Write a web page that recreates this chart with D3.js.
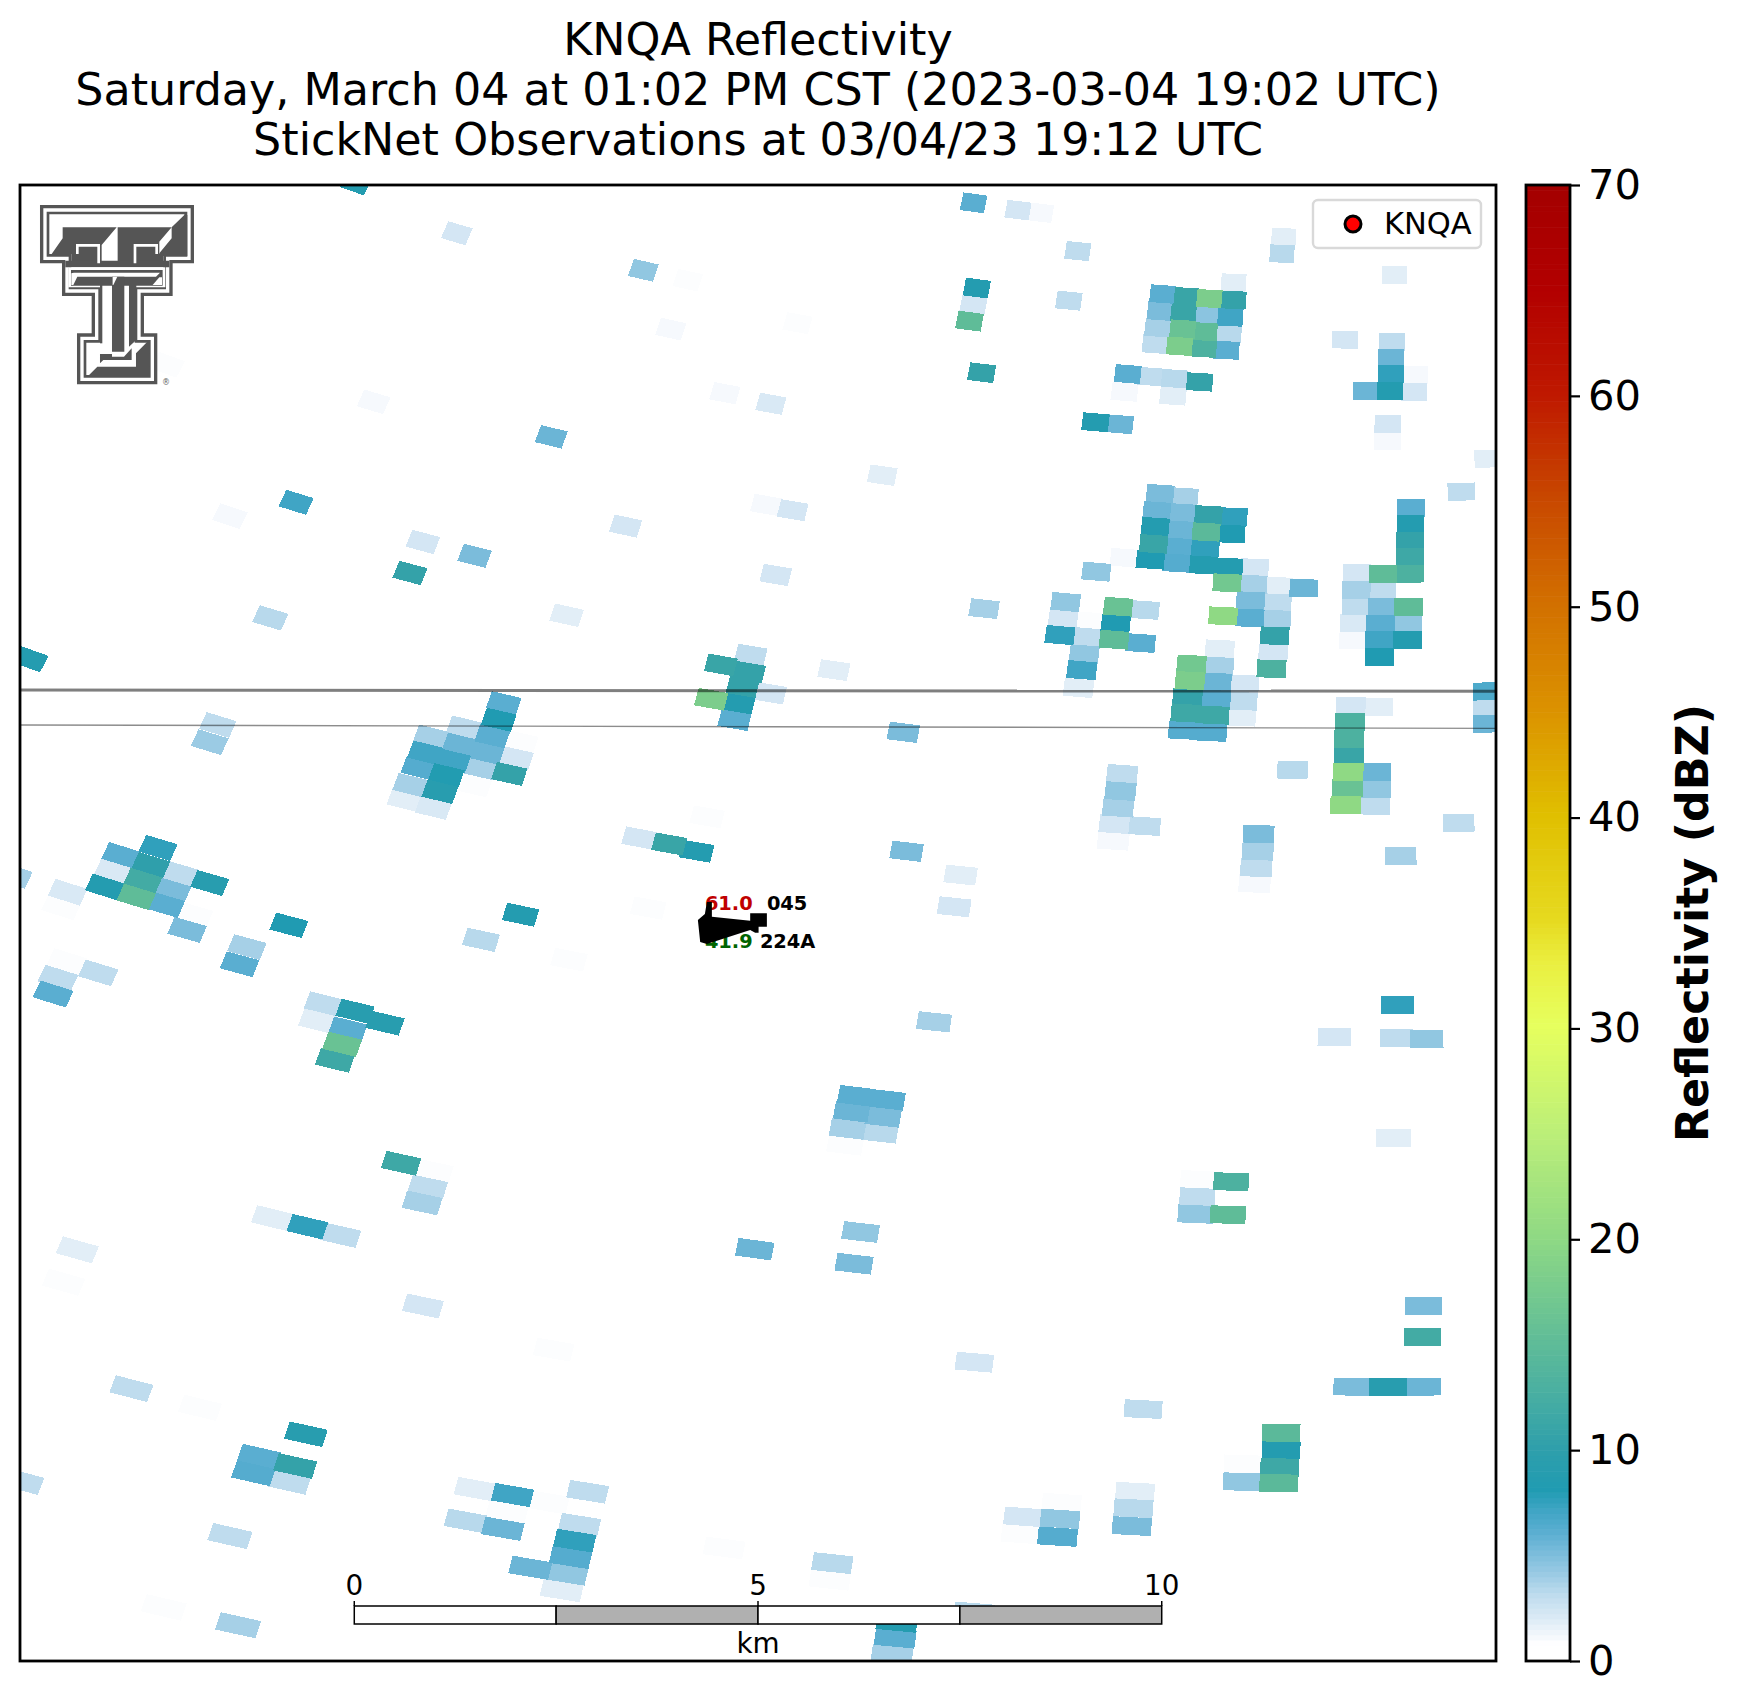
<!DOCTYPE html>
<html>
<head>
<meta charset="utf-8">
<script src="https://cdn.jsdelivr.net/npm/d3@7"></script>
<style>
  body { margin: 0; background: #fff; }
  text { font-family: "DejaVu Sans", sans-serif; fill: #000; }
</style>
</head>
<body>
<div id="chart"></div>
<script>
const titleLines = [
  "KNQA Reflectivity",
  "Saturday, March 04 at 01:02 PM CST (2023-03-04 19:02 UTC)",
  "StickNet Observations at 03/04/23 19:12 UTC"
];

// Radar gates: km east / km north of the lower left corner, and dBZ
const cellEast = [
  4.16,5.41,7.72,8.27,8.06,8.73,9.30,4.38,1.83,6.58,3.42,2.60,4.99,5.63,4.83,7.50,9.24,9.57,9.36,3.10,6.77,
  11.81,12.36,12.64,13.10,15.65,15.63,17.02,11.85,11.81,11.76,12.99,9.63,
  14.15,14.12,14.09,14.06,14.45,14.41,14.40,14.36,14.73,14.70,14.67,14.66,15.03,14.99,14.97,14.94,15.03,
  16.41,16.99,16.98,16.98,17.28,16.67,16.97,17.26,16.94,16.94,13.72,14.01,14.30,14.61,11.91,13.68,14.28,13.32,13.62,12.64,10.68,
  18.18,17.85,
  14.12,14.08,14.06,14.04,14.00,14.42,14.40,14.37,14.35,14.33,14.72,14.69,14.68,14.66,15.03,15.00,14.97,
  13.68,15.29,14.95,15.27,15.58,15.90,13.33,15.24,15.57,14.90,15.23,15.56,15.54,15.52,15.50,11.94,
  12.95,12.92,13.24,13.60,13.93,13.57,12.88,13.22,13.55,13.88,13.18,13.15,13.11,
  14.86,14.85,14.51,14.49,14.82,15.16,14.46,14.81,15.14,14.44,14.79,15.12,14.41,14.76,
  16.48,16.82,16.47,16.46,16.46,16.45,16.79,16.44,16.79,16.42,16.78,
  16.56,16.88,17.21,17.23,17.22,17.22,17.21,16.55,16.87,16.55,16.87,17.20,16.53,16.85,17.19,16.52,16.84,17.18,16.84,
  18.18,18.18,18.18,
  15.76,10.94,13.65,13.63,13.60,13.56,13.93,13.54,15.34,15.33,15.31,15.29,17.82,17.10,10.98,11.65,11.57,
  0.12,9.05,8.68,9.03,8.95,8.56,8.90,9.29,8.85,10.08,5.99,5.93,5.50,5.85,5.09,5.45,6.20,5.78,5.02,6.14,5.36,4.94,5.70,6.06,5.28,4.84,5.20,5.62,4.77,5.12,
  2.45,2.35,8.51,7.67,8.04,8.38,
  1.71,1.25,1.62,1.16,1.98,1.52,2.35,1.05,1.88,1.44,1.80,2.15,2.07,-0.09,0.59,0.51,3.33,2.81,2.72,6.20,5.71,7.78,6.80,6.11,0.58,0.97,0.47,0.41,
  3.76,3.69,4.15,4.52,4.06,3.99,3.90,
  11.32,10.35,10.74,10.30,10.69,10.25,10.65,10.22,10.63,17.06,16.28,17.05,17.42,17.01,14.59,15.00,14.58,14.56,14.96,10.41,10.33,
  9.10,4.72,5.12,5.05,4.98,3.12,3.56,3.97,0.71,0.54,4.99,6.61,1.38,2.23,3.54,2.96,3.41,2.89,3.33,0.02,5.64,6.10,6.54,7.03,6.03,5.52,5.98,6.93,6.87,6.82,6.77,6.32,6.71,2.60,8.72,1.78,2.70,
  17.38,17.37,16.50,16.94,17.37,11.82,13.91,14.79,15.62,15.62,15.60,15.15,15.59,15.14,13.81,13.79,13.77,12.90,12.88,12.85,12.43,12.40,10.06,10.03,11.82,10.86,10.84,10.80
];
const cellNorth = [
  22.36,21.60,21.04,20.89,20.15,19.18,19.02,19.05,19.61,18.52,17.53,17.32,16.93,16.72,16.46,17.17,17.49,17.41,16.43,15.78,15.82,
  22.06,21.95,21.91,21.33,21.54,21.29,20.97,20.77,20.53,20.27,20.58,20.24,
  20.68,20.42,20.17,19.92,20.64,20.39,20.15,19.89,20.61,20.36,20.11,19.86,20.59,20.33,20.09,19.83,20.85,
  19.99,19.96,19.71,19.47,19.46,19.21,19.21,19.20,18.71,18.46,19.47,19.43,19.40,19.35,19.49,19.20,19.14,18.74,18.71,18.37,17.94,
  18.19,17.69,
  17.66,17.40,17.16,16.90,16.66,17.61,17.37,17.11,16.85,16.61,17.34,17.08,16.84,16.58,17.31,17.05,16.55,
  16.69,16.54,16.31,16.29,16.26,16.23,16.48,16.04,16.01,15.81,15.78,15.76,15.51,15.25,15.01,15.92,
  16.02,15.78,15.73,15.95,15.90,15.69,15.52,15.49,15.45,15.40,15.23,14.99,14.72,
  15.31,15.05,15.08,14.83,14.81,14.78,14.58,14.55,14.52,14.34,14.31,14.28,14.08,14.05,
  14.45,14.43,14.21,13.95,13.71,13.45,13.45,13.21,13.19,12.95,12.94,
  16.46,16.45,16.45,17.44,17.20,16.94,16.70,16.20,16.20,15.96,15.95,15.95,15.70,15.69,15.70,15.45,15.45,15.45,15.19,
  14.67,14.43,14.18,
  13.48,14.05,13.42,13.16,12.91,12.66,12.63,12.41,12.51,12.25,12.00,11.76,12.68,12.18,12.25,11.89,11.41,
  15.16,15.22,15.07,14.96,14.74,14.55,14.49,14.64,14.24,14.99,14.49,14.24,14.12,13.99,13.98,13.86,13.90,13.74,13.74,13.66,13.62,13.51,13.51,13.42,13.40,13.25,13.15,13.25,13.03,12.91,
  14.16,13.90,12.77,12.45,12.36,12.25,
  12.30,12.19,12.04,11.95,11.91,11.80,11.77,11.71,11.66,11.56,11.44,11.29,11.06,11.89,11.63,11.41,11.13,10.80,10.54,11.29,10.91,11.39,10.61,10.79,10.58,10.41,10.33,10.09,
  9.94,9.68,9.83,9.65,9.56,9.33,9.09,
  9.67,8.55,8.49,8.31,8.23,8.05,7.99,7.81,7.76,9.92,9.44,9.43,9.41,7.91,7.28,7.25,7.02,6.76,6.75,6.49,6.01,
  6.23,7.53,7.41,7.17,6.93,6.70,6.57,6.44,6.22,5.73,5.37,4.71,4.12,3.83,3.43,3.09,2.95,2.84,2.71,2.72,2.60,2.51,2.40,2.56,2.25,2.12,2.00,2.06,1.82,1.57,1.32,1.41,1.07,1.89,1.71,0.81,0.54,
  5.37,4.90,4.15,4.15,4.15,4.52,3.81,4.51,3.45,3.19,2.93,2.98,2.69,2.71,2.56,2.31,2.04,2.39,2.15,1.88,2.18,1.92,1.48,1.23,0.74,0.59,0.35,0.09
];
const cellDbz = [
  8.5,2.2,4.3,0.8,1,1,2,1,0.8,5.5,7,1,2.2,5,10.5,2.2,1,2.2,2.2,3.2,1.7,
  6,2.2,1,3,1.7,3.2,1.7,8.5,2.2,15,3,0.8,
  6,5,3.7,3,11,11,16,18,18,4.5,15,13,10.5,7,3.2,6,1.7,
  2.2,3,5.5,7.5,1,5.5,8.5,2.2,2.2,1,6,3,3.2,10.5,10.5,1,1.7,8.5,5.5,0.5,1.7,
  1.7,3,
  5,5.5,8.5,11,8,3.7,5,5.5,6,6.2,10.5,14.5,7.5,8.5,7.5,8,8.5,
  1,2.2,17,3.7,1.7,5.5,4.3,5,3,20,6,3.7,10.5,2.2,13,3.7,
  4.3,2.2,0.8,16,3.2,8,7.5,3,15,6,4.3,7,1.7,
  1.7,3.7,17,18,5.5,2.2,10.5,6,3,11.5,11.5,1.7,6.2,6.2,
  2.2,1.7,13,13,11,20,5.5,16,4.3,20,3,
  2.2,15,13,6,8.5,10.5,11.5,3.7,3,3,5,15,2,6,4.3,1,7,8.5,8,
  6.5,3,5.5,
  3.2,5,3,4.3,3.7,2.2,3,1,5,3.7,3,1,3,3.7,5,1.7,2.2,
  8.5,3,11,10.5,10.5,18,8.5,2.2,6,1.7,6,8,3,6,3.7,5.5,0.8,5.5,7,2.2,7,6.2,3.7,10.5,8.3,3.7,9,0.8,1.7,2,
  3,4,0.8,2.2,11,8.5,
  7.5,6,10,2,3,12,9,8.5,5,15,6,0.8,5,3.7,2,0.8,8,3.7,6,8.5,3.2,0.8,0.8,0.5,0.8,3,3,6,
  3,1.7,9,9,6,16,11.5,
  3.7,6,6,5.5,5,3.7,3.2,0.8,0.5,7.5,2.2,3,4.3,1.7,0.8,13,3,4.3,15,4.3,5,
  5.5,11.5,0.8,3,3.7,1.7,7.5,3,1.7,0.8,2.2,0.8,3,0.8,9,6,10.5,6.2,3,3,1.7,7,0.8,3,0.8,3.2,5.5,3,7.5,6.2,4.3,5.5,1.7,3,0.8,0.8,3.7,
  5,12,5,9,5.5,2.2,3,0.5,14.5,8.5,11.5,0.8,14.5,4.3,1.7,3.2,5,0.8,4.3,6.2,2.2,0.8,3.2,0.8,3.2,8.5,6,3.7
];

// Reflectivity colour map
const cmapValues = [0, 0.7, 1, 2, 3, 4, 5, 6, 7, 8, 10, 13, 15, 20, 25, 30, 33, 35, 40, 45, 50, 55, 60, 65, 70];
const cmapColors = ["#ffffff", "#ffffff", "#f6f9fd", "#d9e9f5", "#bfdcee", "#9bcbe4", "#7bbcdb", "#5aaed1", "#40a5c5", "#209bb2",
  "#2f9fab", "#4db1a0", "#5fbc98", "#8fd984", "#bcef78", "#e6ff5e", "#eaef40", "#e6da20", "#e0bf00", "#db9200",
  "#d27000", "#c84800", "#bf1800", "#b20000", "#a30000"];
const colorTicks = [0, 10, 20, 30, 40, 50, 60, 70];

// Radar site relative to the same corner, and the drawn size of one gate
const radarEast = 17.0, radarNorth = 53.58;
const gateKm = 0.27, beamDeg = 0.54;

// County lines, km east / km north
const borderEast = [0, 18.28];
const borderNorthA = [14.69, 14.67];
const borderNorthB = [14.16, 14.11];

// Scale bar and station
const scaleStops = [0, 2.5, 5, 7.5, 10];
const scaleLabels = [0, 5, 10];
const scaleStartEast = 4.14;
const stationEast = 9.25, stationNorth = 11.21;
const stationTemp = "61.0", stationDew = "41.9", stationPres = "045", stationId = "224A";

// Chart settings
const margin = { top: 185, right: 242, bottom: 44, left: 20 },
      width = 1738 - margin.left - margin.right,
      height = 1705 - margin.top - margin.bottom;

const svg = d3.select("#chart")
  .append("svg")
  .attr("width", 1738)
  .attr("height", 1705);

const x = d3.scaleLinear().domain([0, 18.28]).range([margin.left, margin.left + width]);
const y = d3.scaleLinear().domain([0, 22.33]).range([margin.top + height, margin.top]);
const color = d3.scaleLinear().domain(cmapValues).range(cmapColors);

svg.append("clipPath").attr("id", "plot-clip")
  .append("rect")
  .attr("x", margin.left).attr("y", margin.top)
  .attr("width", width).attr("height", height);

// Title
svg.selectAll(".title")
  .data(titleLines)
  .enter()
  .append("text")
  .attr("class", "title")
  .attr("x", 758)
  .attr("y", (d, i) => 54.5 + i * 50)
  .attr("text-anchor", "middle")
  .style("font-size", "44.4px")
  .text(d => d);

const plot = svg.append("g").attr("clip-path", "url(#plot-clip)");

// Outline of one gate, turned to face the radar
function gatePath(i) {
  const dx = radarEast - cellEast[i], dy = radarNorth - cellNorth[i];
  const r = Math.hypot(dx, dy);
  const az = Math.atan2(dx, dy) * 180 / Math.PI;
  const corner = (rr, aa) => {
    const a = aa * Math.PI / 180;
    return [x(radarEast - rr * Math.sin(a)), y(radarNorth - rr * Math.cos(a))];
  };
  const r0 = r - gateKm / 2, r1 = r + gateKm / 2, a0 = az - beamDeg / 2, a1 = az + beamDeg / 2;
  return d3.line()([corner(r0, a0), corner(r0, a1), corner(r1, a1), corner(r1, a0)]) + "Z";
}

plot.selectAll(".gate")
  .data(d3.range(cellDbz.length).sort((a, b) => cellDbz[a] - cellDbz[b]))
  .enter()
  .append("path")
  .attr("class", "gate")
  .attr("d", gatePath)
  .attr("fill", i => color(cellDbz[i]))
  .attr("shape-rendering", "crispEdges");

// County lines
const borderLine = d3.line().x((d, i) => x(borderEast[i])).y(d => y(d));
plot.append("path").attr("d", borderLine(borderNorthA))
  .attr("fill", "none").attr("stroke", "#000").attr("stroke-opacity", 0.5).attr("stroke-width", 3);
plot.append("path").attr("d", borderLine(borderNorthB))
  .attr("fill", "none").attr("stroke", "#000").attr("stroke-opacity", 0.45).attr("stroke-width", 1.4);

// Station plot
const station = svg.append("g")
  .attr("transform", `translate(${x(stationEast)},${y(stationNorth)})`);
const stationText = [
  { t: stationTemp, dx: -62, dy: -10, c: "#c00000" },
  { t: stationPres, dx: 0, dy: -10, c: "#000" },
  { t: stationDew, dx: -62, dy: 28, c: "#006400" },
  { t: stationId, dx: -7, dy: 28, c: "#000" }
];
station.selectAll("text")
  .data(stationText)
  .enter()
  .append("text")
  .attr("x", d => d.dx)
  .attr("y", d => d.dy)
  .style("font-size", "19.4px")
  .style("font-weight", "bold")
  .style("fill", d => d.c)
  .text(d => d.t);
station.append("polygon")
  .attr("points", "-55,-18 -55,-3.3 -16.7,0.7 -16.7,-6.7 0,-6.7 0,6.7 -8.3,6.7 -8.3,12.7 -11.7,12.7 -16.7,10 -60,24 -66.7,22 -69,0 -62,-6 -60,-18");

// Scale bar
const scaleBar = svg.append("g");
const sx = d => x(scaleStartEast + d);
scaleBar.selectAll("rect")
  .data(scaleStops.slice(0, -1))
  .enter()
  .append("rect")
  .attr("x", d => sx(d))
  .attr("y", 1606)
  .attr("width", (d, i) => sx(scaleStops[i + 1]) - sx(d))
  .attr("height", 18)
  .attr("fill", (d, i) => i % 2 ? "#b0b0b0" : "#fff")
  .attr("stroke", "#000")
  .attr("stroke-width", 1.5);
scaleBar.selectAll(".tick")
  .data(scaleLabels)
  .enter()
  .append("line")
  .attr("class", "tick")
  .attr("x1", d => sx(d)).attr("x2", d => sx(d))
  .attr("y1", 1601).attr("y2", 1606)
  .attr("stroke", "#000").attr("stroke-width", 1.5);
scaleBar.selectAll("text")
  .data(scaleLabels)
  .enter()
  .append("text")
  .attr("x", d => sx(d))
  .attr("y", 1595)
  .attr("text-anchor", "middle")
  .style("font-size", "27.8px")
  .text(d => d);
scaleBar.append("text")
  .attr("x", sx(5)).attr("y", 1653)
  .attr("text-anchor", "middle")
  .style("font-size", "27.8px")
  .text("km");

// Axes frame
svg.append("rect")
  .attr("x", margin.left).attr("y", margin.top)
  .attr("width", width).attr("height", height)
  .attr("fill", "none").attr("stroke", "#000").attr("stroke-width", 2.8);

// Logo
const logo = svg.append("g").attr("transform", "translate(0,170) scale(0.3333)");
const logoParts = [
  ["120,105 582,105 582,280 518,280 518,378 432,378 432,490 472,490 472,643 231,643 231,490 275,490 275,378 186,378 186,280 120,280", "#555"],
  ["130,115 572,115 572,270 508,270 508,368 422,368 422,500 462,500 462,633 241,633 241,500 285,500 285,368 196,368 196,270 130,270", "#fff"],
  ["140,125 562,125 562,260 498,260 498,358 412,358 412,510 452,510 452,623 251,623 251,510 295,510 295,358 206,358 206,260 140,260", "#555"],
  ["148,133 553,133 553,252 490,252 490,350 404,350 404,518 444,518 444,615 259,615 259,518 303,518 303,350 214,350 214,252 148,252", "#fff"],
  ["188,172 350,172 305,225 305,280 214,280 214,252 155,252 188,205", "#555"],
  ["353,172 515,172 478,215 478,252 490,252 490,280 353,280", "#555"],
  ["553,135 562,135 562,258 478,258 478,250 515,205 515,172", "#555"],
  ["196,272 508,272 508,292 196,292", "#555"],
  ["205,292 496,292 496,352 205,352", "#fff"],
  ["213,300 488,300 488,347 213,347", "#555"],
  ["222,308 480,308 468,320 232,320 220,345 214,345 214,310", "#fff"],
  ["478,322 486,322 486,345 458,345", "#fff"],
  ["300,345 307,345 307,520 300,520", "#555"],
  ["336,320 373,320 373,545 336,545", "#555"],
  ["338,320 352,320 340,345 338,345", "#fff"],
  ["387,345 409,345 409,510 387,530", "#555"],
  ["262,620 292,590 408,590 408,550 445,512 448,512 448,620", "#555"],
  ["300,552 336,552 336,560 372,560 395,535 395,570 310,570 300,580", "#555"]
];
logo.selectAll("polygon")
  .data(logoParts)
  .enter()
  .append("polygon")
  .attr("points", d => d[0])
  .attr("fill", d => d[1]);
logo.selectAll("polyline")
  .data(["232,252 232,226 296,226 296,280", "405,280 405,226 470,226 470,252"])
  .enter()
  .append("polyline")
  .attr("points", d => d)
  .attr("fill", "none")
  .attr("stroke", "#fff")
  .attr("stroke-width", 8);
svg.append("text")
  .attr("x", 166).attr("y", 385)
  .attr("text-anchor", "middle")
  .style("font-size", "8px").style("fill", "#666")
  .text("®");

// Legend
const legend = svg.append("g");
legend.append("rect")
  .attr("x", 1313).attr("y", 200)
  .attr("width", 168).attr("height", 48)
  .attr("rx", 5)
  .attr("fill", "#fff").attr("fill-opacity", 0.8)
  .attr("stroke", "#d9d9d9").attr("stroke-width", 2.4);
legend.append("circle")
  .attr("cx", 1353).attr("cy", 224).attr("r", 8)
  .attr("fill", "#f00").attr("stroke", "#000").attr("stroke-width", 3);
legend.append("text")
  .attr("x", 1384).attr("y", 234)
  .style("font-size", "30.5px")
  .text("KNQA");

// Colorbar
const barX = 1526, barW = 44;
const barScale = d3.scaleLinear().domain([0, 70]).range([margin.top + height, margin.top]);
svg.selectAll(".bar-slice")
  .data(d3.range(0, 70, 0.25))
  .enter()
  .append("rect")
  .attr("class", "bar-slice")
  .attr("x", barX)
  .attr("y", d => barScale(d + 0.25))
  .attr("width", barW)
  .attr("height", d => barScale(d) - barScale(d + 0.25) + 0.6)
  .attr("fill", d => color(d));
svg.append("rect")
  .attr("x", barX).attr("y", margin.top)
  .attr("width", barW).attr("height", height)
  .attr("fill", "none").attr("stroke", "#000").attr("stroke-width", 2.8);
const barAxis = svg.append("g")
  .attr("transform", `translate(${barX + barW},0)`)
  .call(d3.axisRight(barScale).tickValues(colorTicks).tickSize(10).tickPadding(8));
barAxis.select(".domain").remove();
barAxis.selectAll("line").attr("stroke", "#000").attr("stroke-width", 2.2);
barAxis.selectAll("text").style("font-size", "41.67px").style("font-family", '"DejaVu Sans", sans-serif');

svg.append("text")
  .attr("transform", "translate(1708,923) rotate(-90)")
  .attr("text-anchor", "middle")
  .style("font-size", "44.4px")
  .style("font-weight", "bold")
  .text("Reflectivity (dBZ)");
</script>
</body>
</html>
